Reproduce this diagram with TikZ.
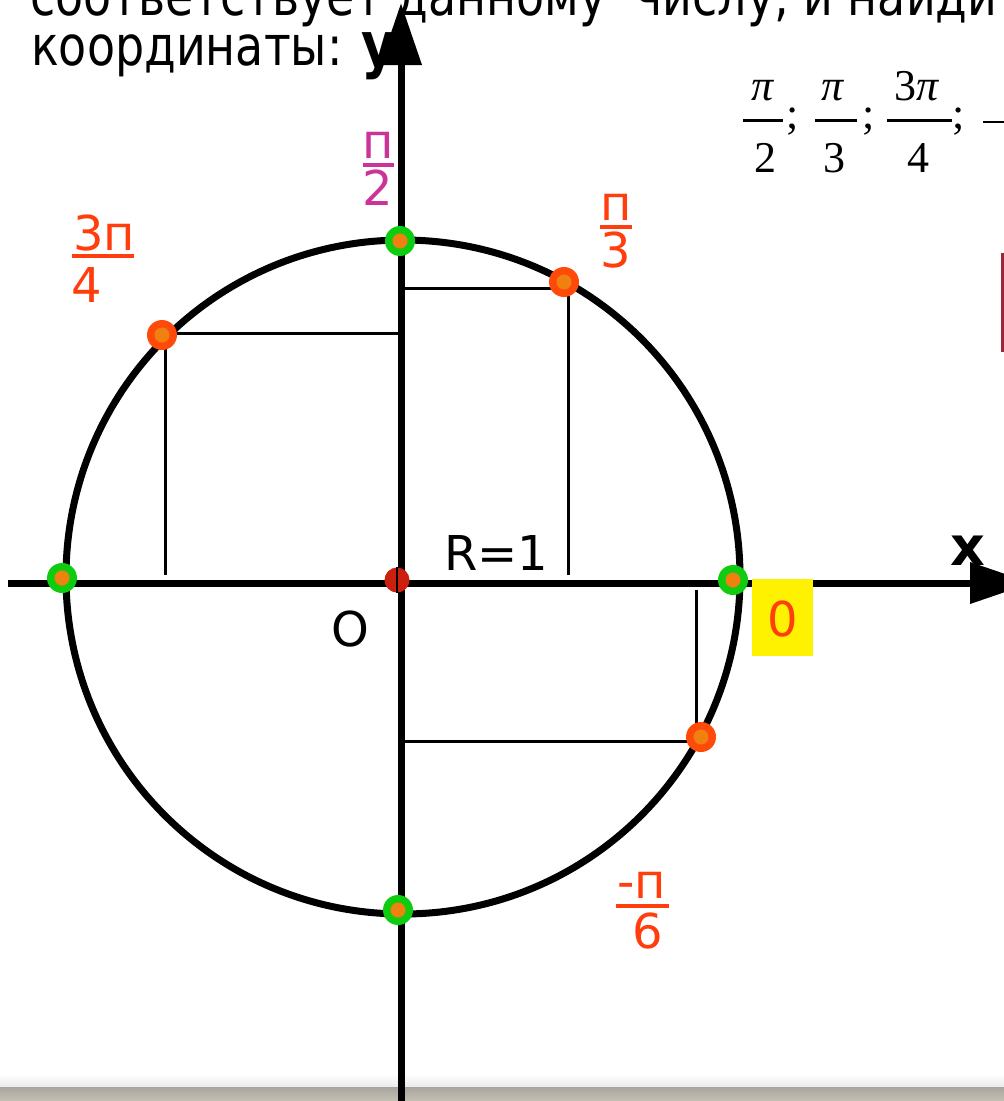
\documentclass[tikz,border=0pt]{standalone}
\usepackage{fontspec}
\setmainfont{DejaVu Sans}
\newfontfamily\tnr{Liberation Serif}
\usetikzlibrary{arrows.meta}
\definecolor{labred}{HTML}{FF3D0D}
\definecolor{labmag}{HTML}{CC3399}
\definecolor{dotred}{HTML}{FF4A0A}
\definecolor{dotorange}{HTML}{F08010}
\definecolor{dotgreen}{HTML}{10CC10}
\definecolor{origred}{HTML}{CC1F10}
\definecolor{darkrose}{HTML}{9A2838}
\definecolor{barA}{HTML}{A8A59E}
\definecolor{barB}{HTML}{C4C0B4}
\newcommand\fsz[1]{\fontsize{#1}{#1}\selectfont}
\tikzset{
  txt/.style={inner sep=0pt, font=\fsz{48}},
  lab/.style={inner sep=0pt, font=\fsz{48}, text=labred},
  labm/.style={inner sep=0pt, font=\fsz{48}, text=labmag},
  serif/.style={inner sep=0pt, font=\tnr\fsz{44}},
  axisline/.style={line width=7pt, -{Triangle[length=62pt,width=40pt]}},
  guide/.style={line width=3pt},
  reddot/.style={circle, fill=dotred, minimum size=30pt, inner sep=0pt,
    path picture={\fill[dotorange] (path picture bounding box.center) circle (7.5pt);}},
  greendot/.style={circle, fill=dotgreen, minimum size=30pt, inner sep=0pt,
    path picture={\fill[dotorange] (path picture bounding box.center) circle (7.5pt);}},
}
\begin{document}
\begin{tikzpicture}[x=1pt,y=-1pt]
\useasboundingbox (0,0) rectangle (1004,1101);
\clip (0,0) rectangle (1004,1101);
\fill[white] (0,0) rectangle (1004,1101);
% bottom bar
\shade[top color=white, bottom color=black!8] (0,1074) rectangle (1004,1087);
\shade[top color=barA, bottom color=barB] (0,1087) rectangle (1004,1101);
% top text
\node[txt, anchor=base west, font=\fsz{55}] (t1) at (30,15) {\scalebox{0.835}[1]{соответствует данному \ числу, и найдите}};
\node[txt, anchor=base west, font=\fsz{55}] (t2) at (31,65) {\scalebox{0.835}[1]{координаты:}};
\node[txt, anchor=base west, font=\bfseries\fsz{62}] (ylab) at (361,66) {\scalebox{0.85}[1]{y}};
% top fraction list (serif)
\node[serif, anchor=base] (f1n) at (763,100) {\itshape π};
\fill (743,118.5) rectangle (783,121.5);
\node[serif, anchor=base] (f1d) at (765,172) {2};
\node[serif, anchor=base] (s1) at (793,128) {;};
\node[serif, anchor=base] (f2n) at (833,100) {\itshape π};
\fill (815,118.5) rectangle (857,121.5);
\node[serif, anchor=base] (f2d) at (834,172) {3};
\node[serif, anchor=base] (s2) at (869,128) {;};
\node[serif, anchor=base] (f3n) at (917,100) {3\itshape π};
\fill (887,118.5) rectangle (952,121.5);
\node[serif, anchor=base] (f3d) at (918,172) {4};
\node[serif, anchor=base] (s3) at (959,128) {;};
\fill (983,120.5) rectangle (1004,123);
% dark rose mark at right
\draw[darkrose, line width=3pt] (1002.5,253) -- (1002.5,352);
% coordinates
\coordinate (xl) at (8,583);
\coordinate (xr) at (1032,583);
\coordinate (yb) at (401,1101);
\coordinate (yt) at (401,3);
% guide lines
\draw[guide] (400,288) -- (568,288) -- (568,575);
\draw[guide] (400,333) -- (165,333) -- (165,575);
\draw[guide] (400,741) -- (696,741) -- (696,590);
% axes
\draw[axisline] (xl) -- (xr);
\draw[axisline] (yb) -- (yt);
% circle
\draw[line width=7pt] (403,577) circle[radius=337];
% labels
\node[txt, anchor=base] (O) at (350,646) {O};
\node[txt, anchor=base west] (R) at (444,570) {R=1};
\node[txt, anchor=base, font=\bfseries\fsz{54}] (xlab) at (968,565) {x};
% zero box
\node[fill=yellow, minimum width=61pt, minimum height=77pt, inner sep=0pt] (zbox) at (782.5,617.5) {};
\node[lab, anchor=base] (zero) at (783,636) {0};
% pi/2
\node[labm, anchor=base] (p2n) at (378,158) {п};
\fill[labmag] (363,163) rectangle (394,167);
\node[labm, anchor=base] (p2d) at (378,205) {2};
% 3pi/4
\node[lab, anchor=base west] (p34n) at (73,250) {3п};
\fill[labred] (72,254) rectangle (134,258);
\node[lab, anchor=base west] (p34d) at (71,302) {4};
% pi/3
\node[lab, anchor=base] (p3n) at (616,220) {п};
\fill[labred] (600,225) rectangle (632,229);
\node[lab, anchor=base] (p3d) at (616,267) {3};
% -pi/6
\node[lab, anchor=base] (p6n) at (642,898) {-п};
\fill[labred] (616,904) rectangle (669,908);
\node[lab, anchor=base] (p6d) at (648,948) {6};
% dots
\node[greendot] (g1) at (400,241) {};
\node[greendot] (g2) at (398,910) {};
\node[greendot] (g3) at (62,578) {};
\node[greendot] (g4) at (733,580) {};
\node[reddot] (r1) at (564,282) {};
\node[reddot] (r2) at (162,335) {};
\node[reddot] (r3) at (701,737) {};
\node[circle, fill=origred, minimum size=25pt, inner sep=0pt] (orig) at (397,580) {};
\draw[line width=1.5pt] (orig.north) -- (orig.south);
\end{tikzpicture}
\end{document}
